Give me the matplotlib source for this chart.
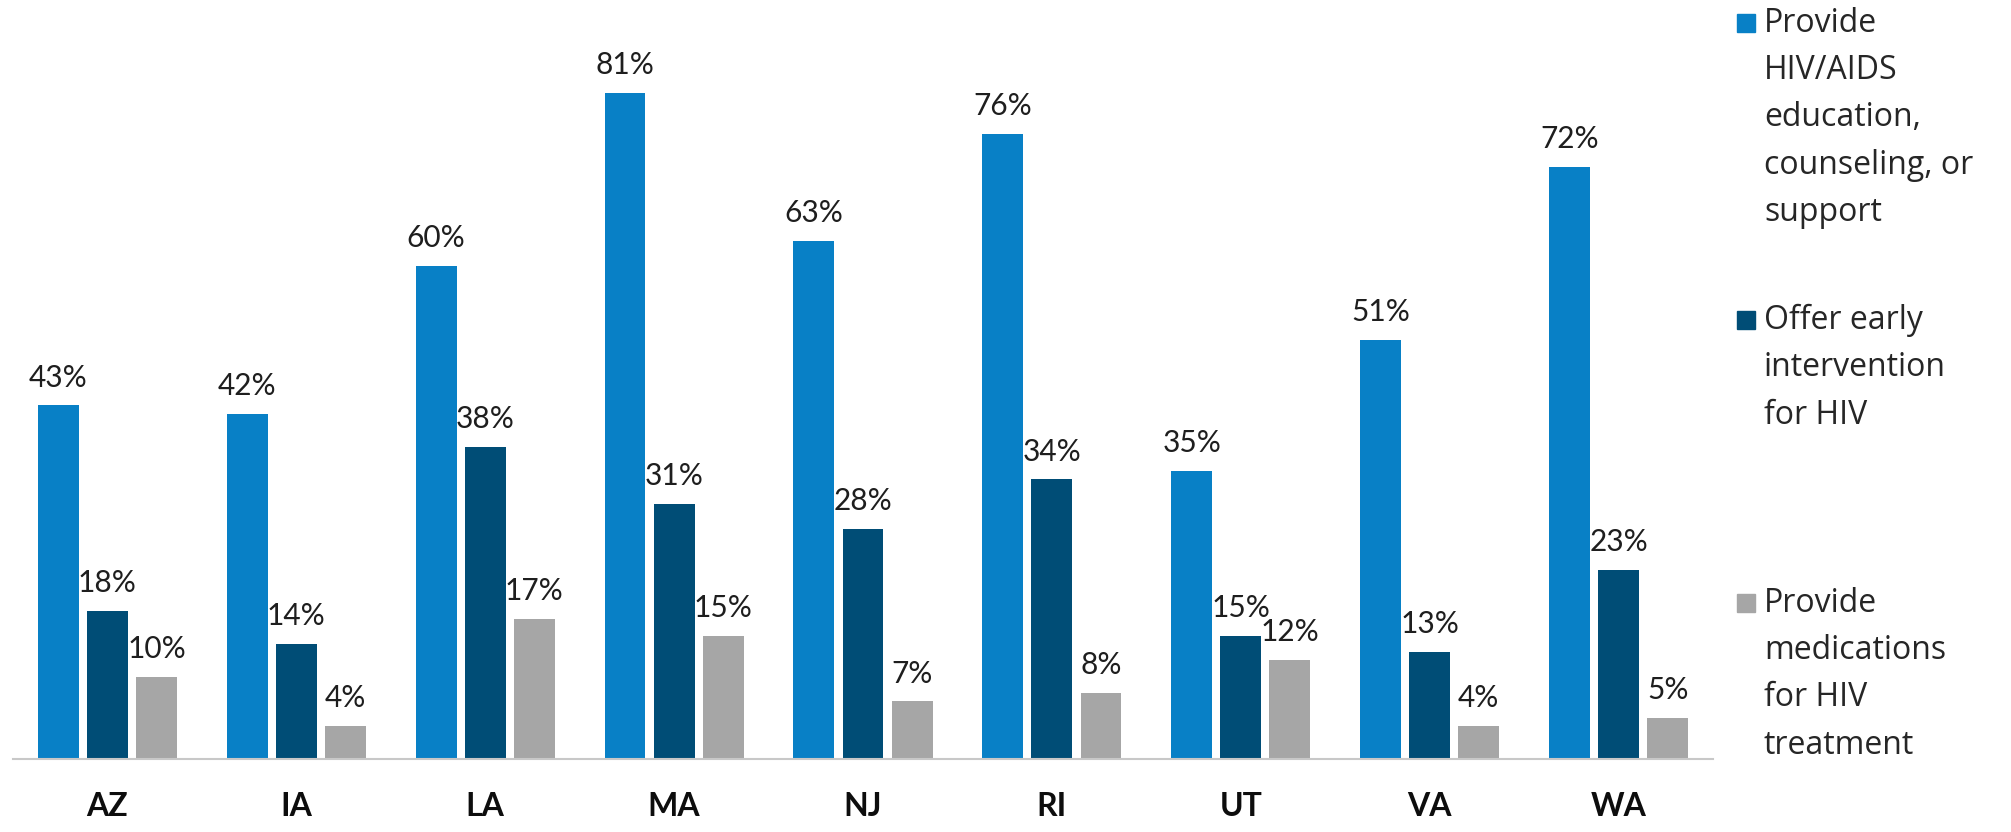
import matplotlib
matplotlib.use("Agg")
import matplotlib.pyplot as plt
from matplotlib.patches import Rectangle
import numpy as np

categories = ["AZ", "IA", "LA", "MA", "NJ", "RI", "UT", "VA", "WA"]
education = [43, 42, 60, 81, 63, 76, 35, 51, 72]
early_intervention = [18, 14, 38, 31, 28, 34, 15, 13, 23]
medications = [10, 4, 17, 15, 7, 8, 12, 4, 5]
series_labels = [
    "Provide\nHIV/AIDS\neducation,\ncounseling, or\nsupport",
    "Offer early\nintervention\nfor HIV",
    "Provide\nmedications\nfor HIV\ntreatment",
]
colors = ["#0880C6", "#004D76", "#A6A6A6"]

W, H = 2011, 832
fig = plt.figure(figsize=(W / 100, H / 100), dpi=100)
ax = fig.add_axes([13 / W, 73 / H, 1700 / W, 759 / H])

x = np.arange(len(categories))
step = 0.26
width = 0.216
for i, (vals, col) in enumerate(zip([education, early_intervention, medications], colors)):
    pos = x + (i - 1) * step
    bars = ax.bar(pos, vals, width=width, color=col, zorder=2)
    for b, v in zip(bars, vals):
        ax.annotate(f"{v}%", (b.get_x() + b.get_width() / 2, v), xytext=(0, 10),
                    textcoords="offset points", ha="center", va="bottom",
                    fontsize=21.5, family="Lato", color="#1E1E1E")

ax.set_xlim(-0.5, 8.5)
ax.set_ylim(0, 92.3)
ax.set_xticks(x)
ax.set_xticklabels(categories, fontsize=23, fontweight="bold", family="Lato", color="#0D0D0D")
ax.tick_params(axis="x", length=0, pad=24)
ax.set_yticks([])
for s in ["top", "right", "left"]:
    ax.spines[s].set_visible(False)
ax.spines["bottom"].set_color("#C8C8C8")
ax.spines["bottom"].set_linewidth(1.5)

# legend
legend_tops = [23, 320, 603]
fs = 23
for lab, col, yc in zip(series_labels, colors, legend_tops):
    sq = 18
    fig.patches.append(Rectangle((1737 / W, 1 - (yc + sq / 2) / H), sq / W, sq / H,
                                 transform=fig.transFigure, color=col, figure=fig))
    fig.text(1764 / W, 1 - (yc - 16) / H, lab, ha="left", va="top", fontsize=fs,
             family="Open Sans", color="#262626", linespacing=1.57)

fig.savefig("out.png", dpi=100)
